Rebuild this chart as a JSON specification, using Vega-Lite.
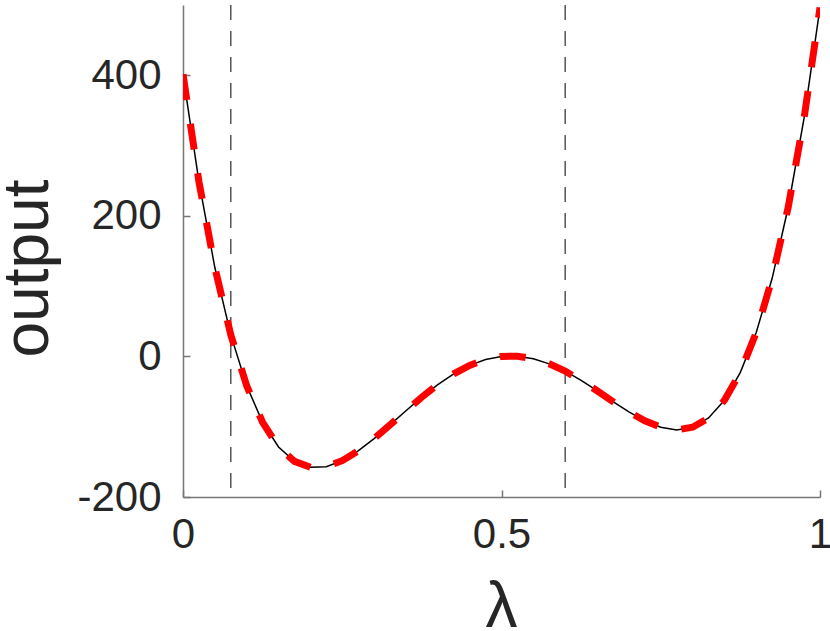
{
  "$schema": "https://vega.github.io/schema/vega-lite/v6.json",
  "width": 637,
  "height": 492,
  "autosize": {"type": "none"},
  "padding": {"left": 183, "top": 5, "right": 10, "bottom": 134},
  "background": "white",
  "config": {
    "view": {"stroke": null},
    "font": "Liberation Sans",
    "axis": {
      "grid": false,
      "domainColor": "#777777",
      "domainWidth": 1.5,
      "tickColor": "#777777",
      "tickWidth": 1.5,
      "tickSize": -7,
      "labelFont": "Liberation Sans",
      "labelFontSize": 42,
      "labelColor": "#262626",
      "labelFlush": false,
      "labelOverlap": false,
      "titleFont": "Liberation Sans",
      "titleFontSize": 64,
      "titleFontWeight": "normal",
      "titleColor": "#262626"
    }
  },
  "datasets": {
    "curve": [
      {"lambda": 0.0, "output": 401.3},
      {"lambda": 0.025, "output": 248.8},
      {"lambda": 0.05, "output": 126.5},
      {"lambda": 0.075, "output": 30.7},
      {"lambda": 0.1, "output": -41.7},
      {"lambda": 0.125, "output": -93.8},
      {"lambda": 0.15, "output": -128.9},
      {"lambda": 0.175, "output": -149.3},
      {"lambda": 0.2, "output": -157.8},
      {"lambda": 0.225, "output": -156.8},
      {"lambda": 0.25, "output": -148.3},
      {"lambda": 0.275, "output": -134.4},
      {"lambda": 0.3, "output": -116.9},
      {"lambda": 0.325, "output": -97.4},
      {"lambda": 0.35, "output": -77.3},
      {"lambda": 0.375, "output": -57.9},
      {"lambda": 0.4, "output": -40.0},
      {"lambda": 0.425, "output": -24.8},
      {"lambda": 0.45, "output": -12.7},
      {"lambda": 0.475, "output": -4.4},
      {"lambda": 0.5, "output": 0.0},
      {"lambda": 0.525, "output": 0.3},
      {"lambda": 0.55, "output": -3.2},
      {"lambda": 0.575, "output": -10.6},
      {"lambda": 0.6, "output": -21.0},
      {"lambda": 0.625, "output": -34.1},
      {"lambda": 0.65, "output": -48.8},
      {"lambda": 0.675, "output": -64.2},
      {"lambda": 0.7, "output": -78.9},
      {"lambda": 0.725, "output": -91.6},
      {"lambda": 0.75, "output": -100.8},
      {"lambda": 0.775, "output": -104.6},
      {"lambda": 0.8, "output": -100.8},
      {"lambda": 0.825, "output": -87.5},
      {"lambda": 0.85, "output": -62.4},
      {"lambda": 0.875, "output": -22.6},
      {"lambda": 0.9, "output": 34.3},
      {"lambda": 0.925, "output": 111.5},
      {"lambda": 0.95, "output": 211.9},
      {"lambda": 0.975, "output": 339.0},
      {"lambda": 1.0, "output": 496.3}
    ],
    "vlines": [{"lambda": 0.075}, {"lambda": 0.6}]
  },
  "layer": [
    {
      "data": {"name": "vlines"},
      "mark": {"type": "rule", "color": "#555555", "strokeWidth": 1.5, "strokeDash": [15, 11]},
      "encoding": {
        "x": {
          "field": "lambda", "type": "quantitative",
          "scale": {"domain": [0, 1], "nice": false},
          "axis": {
            "title": "λ",
            "values": [0, 0.5, 1],
            "labelExpr": "'' + datum.value",
            "labelPadding": 24,
            "titleBaseline": "alphabetic",
            "titleAnchor": "start",
            "titleAlign": "center",
            "titleX": 318,
            "titleY": 129
          }
        }
      }
    },
    {
      "data": {"name": "curve"},
      "mark": {"type": "line", "color": "black", "strokeWidth": 1.5, "clip": true},
      "encoding": {
        "x": {"field": "lambda", "type": "quantitative"},
        "y": {
          "field": "output", "type": "quantitative",
          "scale": {"domain": [-200, 500], "nice": false},
          "axis": {
            "title": "output",
            "values": [-200, 0, 200, 400],
            "labelExpr": "'' + datum.value",
            "labelPadding": 29,
            "titleAngle": 270,
            "titleBaseline": "alphabetic",
            "titleAnchor": "start",
            "titleAlign": "center",
            "titleX": -136,
            "titleY": 263
          }
        }
      }
    },
    {
      "data": {"name": "curve"},
      "mark": {"type": "line", "color": "#ff0000", "strokeWidth": 7, "strokeDash": [26, 24], "clip": true},
      "encoding": {
        "x": {"field": "lambda", "type": "quantitative"},
        "y": {"field": "output", "type": "quantitative"}
      }
    }
  ]
}
